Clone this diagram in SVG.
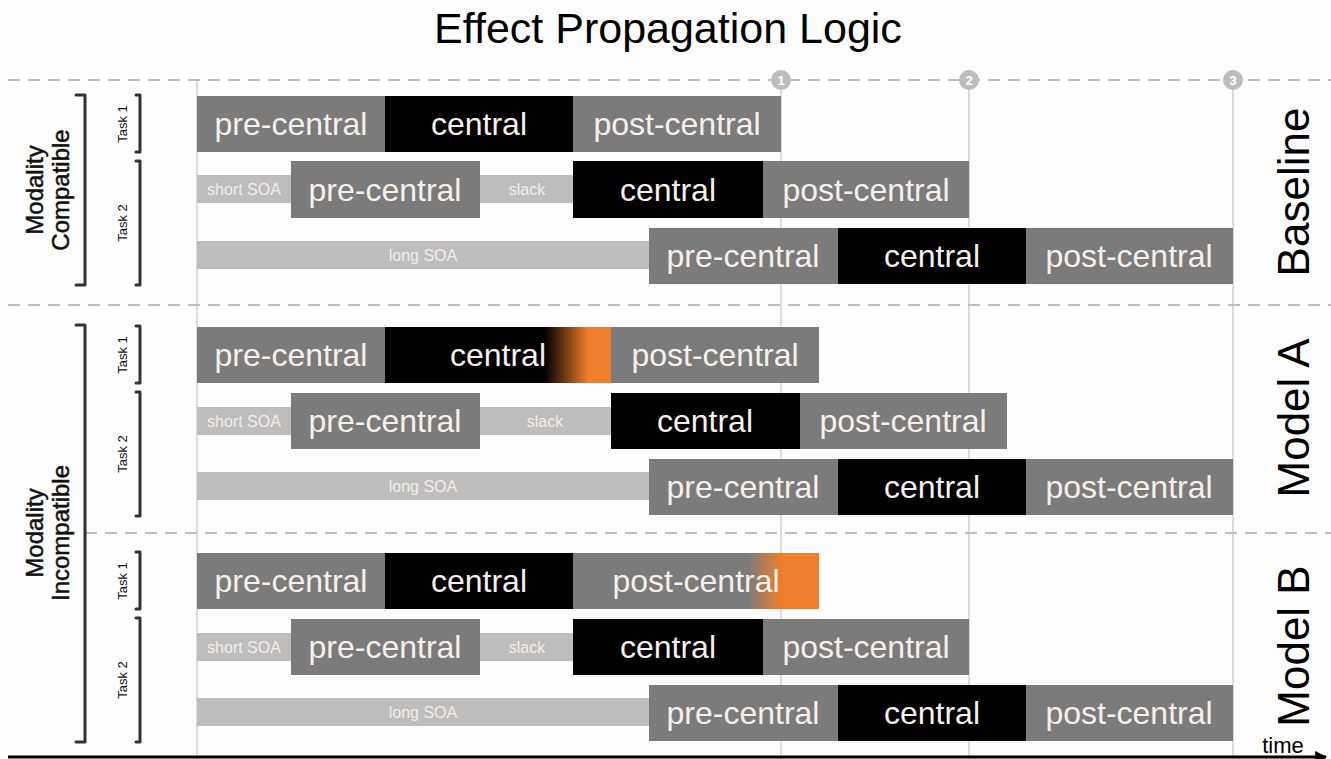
<svg xmlns="http://www.w3.org/2000/svg" width="1331" height="759" viewBox="0 0 1331 759">
<defs>
<style>
text{font-family:"Liberation Sans",Arial,sans-serif}
.grid{stroke:#cfcfcf;stroke-width:1.5;fill:none}
.dash{stroke:#bdbdbd;stroke-width:2;stroke-dasharray:12,8;fill:none}
.g{fill:#7b7b7b}
.k{fill:#000}
.l{fill:#bdbdbd}
.big{font-size:32px;fill:#f7f0ea;text-anchor:middle}
.sm{font-size:16px;fill:#f2eeea;text-anchor:middle}
.br{stroke:#333;stroke-width:3;fill:none;stroke-linecap:round;stroke-linejoin:round}
.task{font-size:13px;fill:#111;text-anchor:middle}
.mod{font-size:24px;fill:#111;stroke:#111;stroke-width:0.5;text-anchor:middle}
.side{font-size:44px;fill:#000;text-anchor:middle}
.num{font-size:13px;fill:#fff;text-anchor:middle;font-weight:bold}
</style>
<linearGradient id="ga" gradientUnits="userSpaceOnUse" x1="545" y1="0" x2="588" y2="0">
<stop offset="0" stop-color="#000"/><stop offset="1" stop-color="#ef7f2d"/>
</linearGradient>
<linearGradient id="gb" gradientUnits="userSpaceOnUse" x1="748" y1="0" x2="782" y2="0">
<stop offset="0" stop-color="#7b7b7b"/><stop offset="1" stop-color="#ef7f2d"/>
</linearGradient>
<marker id="arr" viewBox="0 0 10 10" refX="9" refY="5" markerWidth="4" markerHeight="4" orient="auto">
<path d="M0,0 L10,5 L0,10 z" fill="#000"/>
</marker>
</defs>
<rect width="1331" height="759" fill="#fdfdfd"/>
<text x="668" y="43" font-size="43" text-anchor="middle" fill="#000">Effect Propagation Logic</text>

<g id="grid">
<line class="grid" x1="197" y1="80" x2="197" y2="759"/>
<line class="grid" x1="781" y1="80" x2="781" y2="759"/>
<line class="grid" x1="969" y1="80" x2="969" y2="759"/>
<line class="grid" x1="1233" y1="80" x2="1233" y2="759"/>
<line class="dash" x1="8" y1="80" x2="1331" y2="80"/>
<line class="dash" x1="8" y1="305" x2="1331" y2="305"/>
<line class="dash" x1="85" y1="533" x2="1331" y2="533"/>
<circle cx="781" cy="80" r="10" fill="#bdbdbd"/><text class="num" x="781" y="85">1</text>
<circle cx="969" cy="80" r="10" fill="#bdbdbd"/><text class="num" x="969" y="85">2</text>
<circle cx="1233" cy="80" r="10" fill="#bdbdbd"/><text class="num" x="1233" y="85">3</text>
</g>

<g id="labels-left">
<text class="mod" transform="translate(43,190) rotate(-90)">Modality</text>
<text class="mod" transform="translate(69,190) rotate(-90)">Compatible</text>
<text class="mod" transform="translate(43,533) rotate(-90)">Modality</text>
<text class="mod" transform="translate(69,533) rotate(-90)">Incompatible</text>
<path class="br" d="M76,95 H85 V285 H76"/>
<path class="br" d="M76,325 H85 V742 H76"/>
<path class="br" d="M136,95 H140 V152 H136"/>
<path class="br" d="M136,161 H140 V285 H136"/>
<path class="br" d="M136,326 H140 V383 H136"/>
<path class="br" d="M136,392 H140 V516 H136"/>
<path class="br" d="M136,552 H140 V609 H136"/>
<path class="br" d="M136,618 H140 V742 H136"/>
<text class="task" transform="translate(127,124) rotate(-90)">Task 1</text>
<text class="task" transform="translate(127,223) rotate(-90)">Task 2</text>
<text class="task" transform="translate(127,355) rotate(-90)">Task 1</text>
<text class="task" transform="translate(127,454) rotate(-90)">Task 2</text>
<text class="task" transform="translate(127,581) rotate(-90)">Task 1</text>
<text class="task" transform="translate(127,680) rotate(-90)">Task 2</text>
</g>

<g id="labels-right">
<text class="side" transform="translate(1309,192) rotate(-90)">Baseline</text>
<text class="side" transform="translate(1309,418) rotate(-90)">Model A</text>
<text class="side" transform="translate(1309,646) rotate(-90)">Model B</text>
</g>

<g id="baseline">
<rect class="g" x="197" y="96" width="188" height="56"/><text class="big" x="291" y="135">pre-central</text>
<rect class="k" x="385" y="96" width="188" height="56"/><text class="big" x="479" y="135">central</text>
<rect class="g" x="573" y="96" width="208" height="56"/><text class="big" x="677" y="135">post-central</text>

<rect class="l" x="197" y="175" width="94" height="28"/><text class="sm" x="244" y="195">short SOA</text>
<rect class="g" x="291" y="161" width="189" height="57"/><text class="big" x="385" y="201">pre-central</text>
<rect class="l" x="480" y="175" width="93" height="28"/><text class="sm" x="527" y="195">slack</text>
<rect class="k" x="573" y="161" width="190" height="57"/><text class="big" x="668" y="201">central</text>
<rect class="g" x="763" y="161" width="206" height="57"/><text class="big" x="866" y="201">post-central</text>

<rect class="l" x="197" y="241" width="452" height="28"/><text class="sm" x="423" y="261">long SOA</text>
<rect class="g" x="649" y="228" width="189" height="56"/><text class="big" x="743" y="267">pre-central</text>
<rect class="k" x="838" y="228" width="188" height="56"/><text class="big" x="932" y="267">central</text>
<rect class="g" x="1026" y="228" width="207" height="56"/><text class="big" x="1129" y="267">post-central</text>
</g>

<g id="modelA">
<rect class="g" x="197" y="327" width="188" height="56"/><text class="big" x="291" y="366">pre-central</text>
<rect class="k" x="385" y="327" width="226" height="56"/>
<rect fill="url(#ga)" x="545" y="327" width="66" height="56"/>
<text class="big" x="498" y="366">central</text>
<rect class="g" x="611" y="327" width="208" height="56"/><text class="big" x="715" y="366">post-central</text>

<rect class="l" x="197" y="407" width="94" height="28"/><text class="sm" x="244" y="427">short SOA</text>
<rect class="g" x="291" y="393" width="189" height="56"/><text class="big" x="385" y="432">pre-central</text>
<rect class="l" x="480" y="407" width="131" height="28"/><text class="sm" x="545" y="427">slack</text>
<rect class="k" x="611" y="393" width="189" height="56"/><text class="big" x="705" y="432">central</text>
<rect class="g" x="800" y="393" width="207" height="56"/><text class="big" x="903" y="432">post-central</text>

<rect class="l" x="197" y="472" width="452" height="28"/><text class="sm" x="423" y="492">long SOA</text>
<rect class="g" x="649" y="459" width="189" height="56"/><text class="big" x="743" y="498">pre-central</text>
<rect class="k" x="838" y="459" width="188" height="56"/><text class="big" x="932" y="498">central</text>
<rect class="g" x="1026" y="459" width="207" height="56"/><text class="big" x="1129" y="498">post-central</text>
</g>

<g id="modelB">
<rect class="g" x="197" y="553" width="188" height="56"/><text class="big" x="291" y="592">pre-central</text>
<rect class="k" x="385" y="553" width="188" height="56"/><text class="big" x="479" y="592">central</text>
<rect class="g" x="573" y="553" width="246" height="56"/>
<rect fill="url(#gb)" x="748" y="553" width="71" height="56"/>
<text class="big" x="696" y="592">post-central</text>

<rect class="l" x="197" y="633" width="94" height="28"/><text class="sm" x="244" y="653">short SOA</text>
<rect class="g" x="291" y="619" width="189" height="56"/><text class="big" x="385" y="658">pre-central</text>
<rect class="l" x="480" y="633" width="93" height="28"/><text class="sm" x="527" y="653">slack</text>
<rect class="k" x="573" y="619" width="190" height="56"/><text class="big" x="668" y="658">central</text>
<rect class="g" x="763" y="619" width="206" height="56"/><text class="big" x="866" y="658">post-central</text>

<rect class="l" x="197" y="698" width="452" height="28"/><text class="sm" x="423" y="718">long SOA</text>
<rect class="g" x="649" y="685" width="189" height="56"/><text class="big" x="743" y="724">pre-central</text>
<rect class="k" x="838" y="685" width="188" height="56"/><text class="big" x="932" y="724">central</text>
<rect class="g" x="1026" y="685" width="207" height="56"/><text class="big" x="1129" y="724">post-central</text>
</g>

<g id="connectors">
<line x1="8" y1="757" x2="1326" y2="757" stroke="#000" stroke-width="3" marker-end="url(#arr)"/>
</g>
<text x="1283" y="753" font-size="22" text-anchor="middle" fill="#000">time</text>
</svg>
